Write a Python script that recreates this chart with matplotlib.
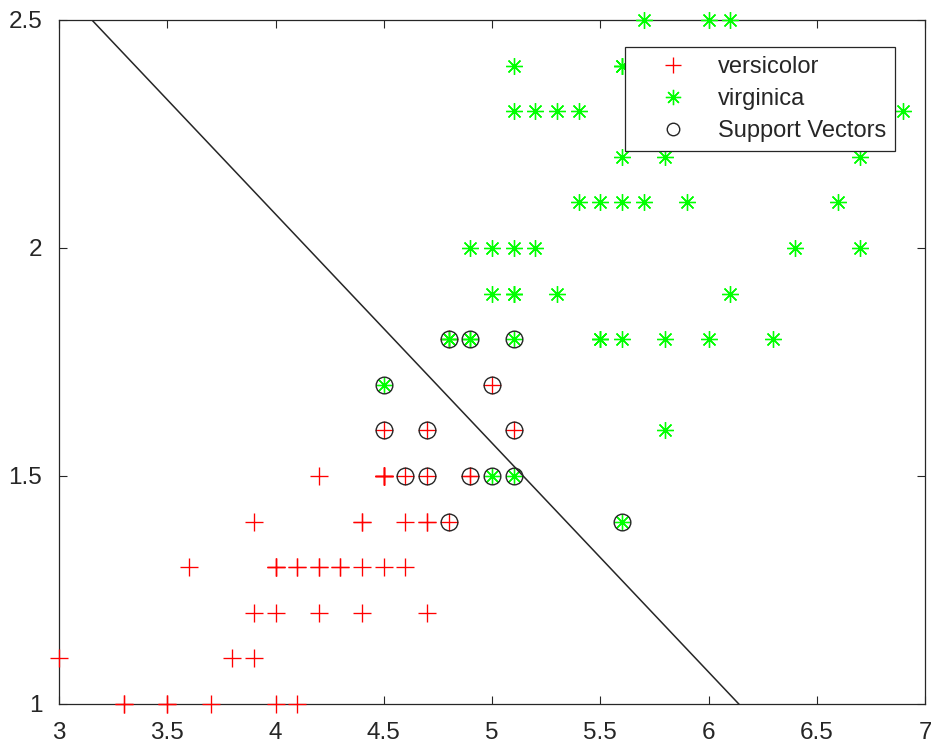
import matplotlib
matplotlib.use("Agg")
import matplotlib.pyplot as plt
import numpy as np

plt.rcParams['font.family'] = ['Liberation Sans', 'DejaVu Sans']

# Petal length / width (Fisher iris)
versicolor_len = [4.7, 4.5, 4.9, 4.0, 4.6, 4.5, 4.7, 3.3, 4.6, 3.9, 3.5, 4.2, 4.0, 4.7, 3.6, 4.4, 4.5,
                  4.1, 4.5, 3.9, 4.8, 4.0, 4.9, 4.7, 4.3, 4.4, 4.8, 5.0, 4.5, 3.5, 3.8, 3.7, 3.9, 5.1,
                  4.5, 4.5, 4.7, 4.4, 4.1, 4.0, 4.4, 4.6, 4.0, 3.3, 4.2, 4.2, 4.2, 4.3, 3.0, 4.1]
versicolor_wid = [1.4, 1.5, 1.5, 1.3, 1.5, 1.3, 1.6, 1.0, 1.3, 1.4, 1.0, 1.5, 1.0, 1.4, 1.3, 1.4, 1.5,
                  1.0, 1.5, 1.1, 1.8, 1.3, 1.5, 1.2, 1.3, 1.4, 1.4, 1.7, 1.5, 1.0, 1.1, 1.0, 1.2, 1.6,
                  1.5, 1.6, 1.5, 1.3, 1.3, 1.3, 1.2, 1.4, 1.2, 1.0, 1.3, 1.2, 1.3, 1.3, 1.1, 1.3]
virginica_len = [6.0, 5.1, 5.9, 5.6, 5.8, 6.6, 4.5, 6.3, 5.8, 6.1, 5.1, 5.3, 5.5, 5.0, 5.1, 5.3, 5.5,
                 6.7, 6.9, 5.0, 5.7, 4.9, 6.7, 4.9, 5.7, 6.0, 4.8, 4.9, 5.6, 5.8, 6.1, 6.4, 5.6, 5.1,
                 5.6, 6.1, 5.6, 5.5, 4.8, 5.4, 5.6, 5.1, 5.1, 5.9, 5.7, 5.2, 5.0, 5.2, 5.4, 5.1]
virginica_wid = [2.5, 1.9, 2.1, 1.8, 2.2, 2.1, 1.7, 1.8, 1.8, 2.5, 2.0, 1.9, 2.1, 2.0, 2.4, 2.3, 1.8,
                 2.2, 2.3, 1.5, 2.3, 2.0, 2.0, 1.8, 2.1, 1.8, 1.8, 1.8, 2.1, 1.6, 1.9, 2.0, 2.2, 1.5,
                 1.4, 2.3, 2.4, 1.8, 1.8, 2.1, 2.4, 2.3, 1.9, 2.3, 2.5, 2.3, 1.9, 2.0, 2.3, 1.8]
sv_len = [4.5, 4.8, 4.9, 5.1, 5.0, 4.5, 4.7, 5.1, 4.6, 4.7, 4.9, 5.0, 5.1, 4.8, 5.6]
sv_wid = [1.7, 1.8, 1.8, 1.8, 1.7, 1.6, 1.6, 1.6, 1.5, 1.5, 1.5, 1.5, 1.5, 1.4, 1.4]
boundary_x = [3.152, 6.14]
boundary_y = [2.5, 1.0]

xticks = [3, 3.5, 4, 4.5, 5, 5.5, 6, 6.5, 7]
xticklabels = ['3', '3.5', '4', '4.5', '5', '5.5', '6', '6.5', '7']
yticks = [1, 1.5, 2, 2.5]
yticklabels = ['1', '1.5', '2', '2.5']

fig = plt.figure(figsize=(9.31, 7.46), dpi=100)
ax = fig.add_axes([59/931, 42/746, 866/931, 684/746])

ast = (8, 2, 0)
ax.plot(versicolor_len, versicolor_wid, linestyle='none', marker='+', color='#ff0000',
        markersize=13, markeredgewidth=0.95, label='versicolor', clip_on=False, zorder=3)
ax.plot(virginica_len, virginica_wid, linestyle='none', marker=ast, color='#00ff00',
        markersize=12, markeredgewidth=0.95, label='virginica', clip_on=False, zorder=3)
ax.plot(sv_len, sv_wid, linestyle='none', marker='o', markerfacecolor='none',
        markeredgecolor='#262626', markersize=12, markeredgewidth=1.0,
        label='Support Vectors', clip_on=False, zorder=4)
ax.plot(boundary_x, boundary_y, color='#262626', linewidth=1.1, zorder=5)

ax.set_xlim(3, 7)
ax.set_ylim(1, 2.5)
ax.set_xticks(xticks)
ax.set_xticklabels(xticklabels)
ax.set_yticks(yticks)
ax.set_yticklabels(yticklabels)
ax.tick_params(direction='in', length=6, width=0.8, colors='#262626', labelsize=17.5,
               top=True, right=True)
ax.tick_params(axis='x', pad=13)
ax.tick_params(axis='y', pad=12)
for s in ax.spines.values():
    s.set_color('#262626')
    s.set_linewidth(0.9)

leg = ax.legend(loc='upper left', bbox_to_anchor=(625/931, 1 - 47/746),
                bbox_transform=fig.transFigure, fontsize=17, frameon=True, framealpha=1,
                fancybox=False, edgecolor='#262626', borderpad=0.38, labelspacing=0.43,
                handlelength=3.27, handletextpad=0.28, borderaxespad=0, numpoints=1)
leg.get_frame().set_linewidth(0.9)
leg.set_zorder(10)
hl = leg.legend_handles
hl[0].set_markersize(12)
hl[1].set_markersize(11)
hl[2].set_markersize(9)
for t in leg.get_texts():
    t.set_color('#262626')

fig.savefig('out.png', dpi=100)
